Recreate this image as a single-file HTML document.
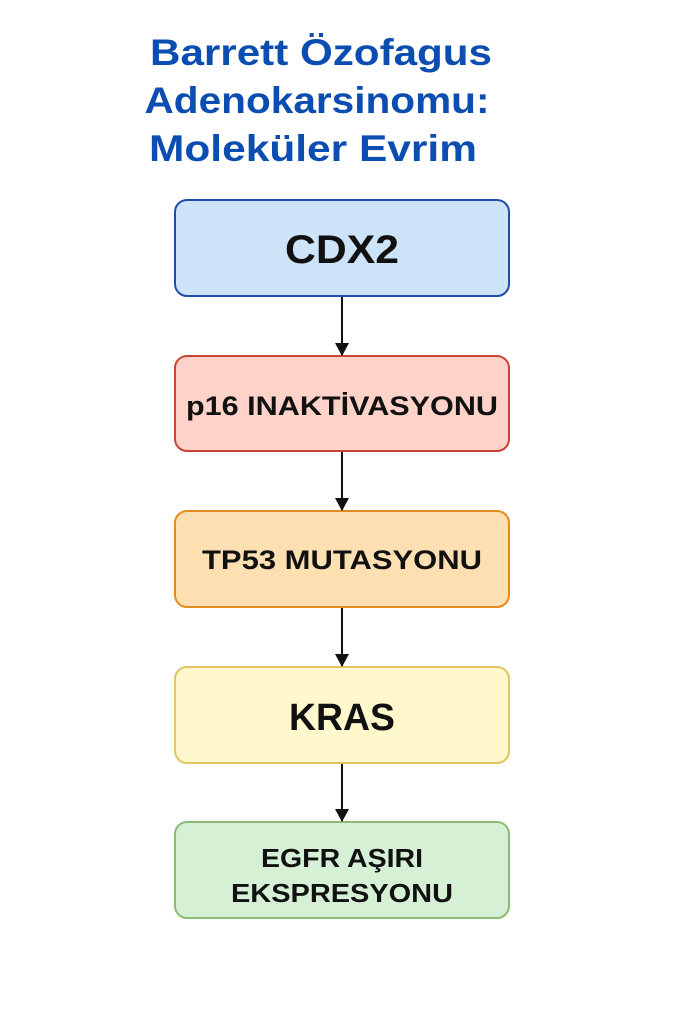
<!DOCTYPE html>
<html><head><meta charset="utf-8"><style>
html,body{margin:0;padding:0;background:#fff;}
svg{display:block;}
text{font-family:"Liberation Sans",sans-serif;font-weight:bold;}
</style></head><body>
<svg width="683" height="1024" viewBox="0 0 683 1024" xmlns="http://www.w3.org/2000/svg">
<defs><marker id="a" markerWidth="14" markerHeight="14" refX="12" refY="7" orient="auto" markerUnits="userSpaceOnUse"><path d="M0,0 L13,7 L0,14 Z" fill="#111"/></marker></defs>
<g fill="#0b4db0" font-size="37" text-anchor="middle">
<text x="321" y="65" textLength="342" lengthAdjust="spacingAndGlyphs">Barrett Özofagus</text>
<text x="317" y="113" textLength="345" lengthAdjust="spacingAndGlyphs">Adenokarsinomu:</text>
<text x="313" y="161" textLength="328" lengthAdjust="spacingAndGlyphs">Moleküler Evrim</text>
</g>
<rect x="175" y="200" width="334" height="96" rx="12" fill="#cde3f7" stroke="#1f4ea8" stroke-width="2"/>
<rect x="175" y="356" width="334" height="95" rx="12" fill="#fdd2c8" stroke="#cc4436" stroke-width="2"/>
<rect x="175" y="511" width="334" height="96" rx="12" fill="#fde0b2" stroke="#e58a1e" stroke-width="2"/>
<rect x="175" y="667" width="334" height="96" rx="12" fill="#fef8cc" stroke="#e3c462" stroke-width="2"/>
<rect x="175" y="822" width="334" height="96" rx="12" fill="#d6f0d6" stroke="#8cbb74" stroke-width="2"/>
<g stroke="#111" stroke-width="2">
<line x1="342" y1="297" x2="342" y2="355" marker-end="url(#a)"/>
<line x1="342" y1="452" x2="342" y2="510" marker-end="url(#a)"/>
<line x1="342" y1="608" x2="342" y2="666" marker-end="url(#a)"/>
<line x1="342" y1="764" x2="342" y2="821" marker-end="url(#a)"/>
</g>
<g fill="#111" text-anchor="middle">
<text x="342" y="263" font-size="40" textLength="114" lengthAdjust="spacingAndGlyphs">CDX2</text>
<text x="342" y="415" font-size="27" textLength="312" lengthAdjust="spacingAndGlyphs">p16 INAKTİVASYONU</text>
<text x="342" y="569" font-size="27" textLength="280" lengthAdjust="spacingAndGlyphs">TP53 MUTASYONU</text>
<text x="342" y="730" font-size="38" textLength="106" lengthAdjust="spacingAndGlyphs">KRAS</text>
<text x="342" y="867" font-size="26" textLength="162" lengthAdjust="spacingAndGlyphs">EGFR AŞIRI</text>
<text x="342" y="902" font-size="26" textLength="222" lengthAdjust="spacingAndGlyphs">EKSPRESYONU</text>
</g>
</svg>
</body></html>
